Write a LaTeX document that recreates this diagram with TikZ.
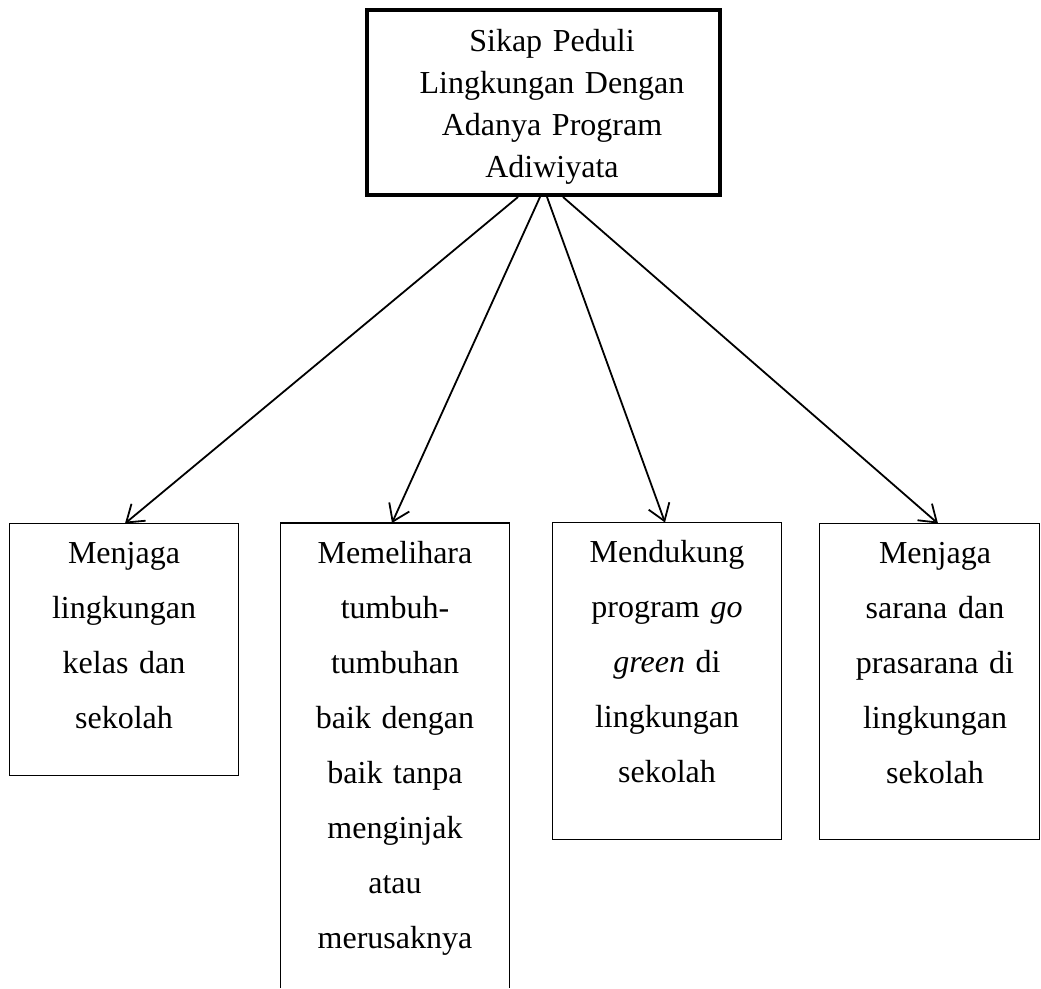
\documentclass[tikz,border=0pt]{standalone}
\usepackage{fontspec}
\setmainfont{Liberation Serif}
\usetikzlibrary{arrows.meta}
\begin{document}
\begin{tikzpicture}[x=1pt,y=-1pt,
  box/.style={draw=black, line width=1.6pt, rectangle, inner sep=0pt, outer sep=0pt},
  topbox/.style={draw=black, line width=4pt, rectangle, inner sep=0pt},
  toptext/.style={anchor=base, inner sep=0pt, text width=340pt, align=center, font=\fontsize{32}{42.3}\selectfont},
  boxtext/.style={anchor=base, inner sep=0pt, text width=220pt, align=center, font=\fontsize{32}{55}\selectfont},
  conn/.style={line width=1.8pt, -{Straight Barb[length=16pt,width=22pt]}}
]
\useasboundingbox (0,0) rectangle (1041,988);
\node[topbox, minimum width=353pt, minimum height=185pt] (top) at (543.5,102.5) {};
\node[box, minimum width=229pt, minimum height=252pt] (b1) at (124,649.5) {};
\node[inner sep=0pt, outer sep=0pt, minimum width=229pt, minimum height=465pt] (b2) at (395,755.5) {};
\draw[line width=1.6pt, line join=miter] (b2.south west) -- (b2.north west) -- (b2.north east) -- (b2.south east);
\node[box, minimum width=229pt, minimum height=317pt] (b3) at (667,681) {};
\node[box, minimum width=220pt, minimum height=316pt] (b4) at (929.5,681.5) {};

\node[toptext] (t0) at (552,51) {Sikap Peduli\\Lingkungan Dengan\\Adanya Program\\Adiwiyata};
\node[boxtext] (t1) at (124,563) {Menjaga\\lingkungan\\kelas dan\\sekolah};
\node[boxtext] (t2) at (395,563) {Memelihara\\tumbuh-\\tumbuhan\\baik dengan\\baik tanpa\\menginjak\\atau\\merusaknya};
\node[boxtext] (t3) at (667,562) {Mendukung\\program \textit{go}\\\textit{green} di\\lingkungan\\sekolah};
\node[boxtext] (t4) at (935,563) {Menjaga\\sarana dan\\prasarana di\\lingkungan\\sekolah};

\draw[conn] ([xshift=-25.5pt]top.south) -- ([xshift=1pt]b1.north);
\draw[conn] ([xshift=-3.5pt]top.south) -- ([xshift=-3pt]b2.north);
\draw[conn] ([xshift=3.5pt]top.south) -- ([xshift=-2pt]b3.north);
\draw[conn] ([xshift=19.5pt]top.south) -- ([xshift=8.5pt]b4.north);
\end{tikzpicture}
\end{document}
